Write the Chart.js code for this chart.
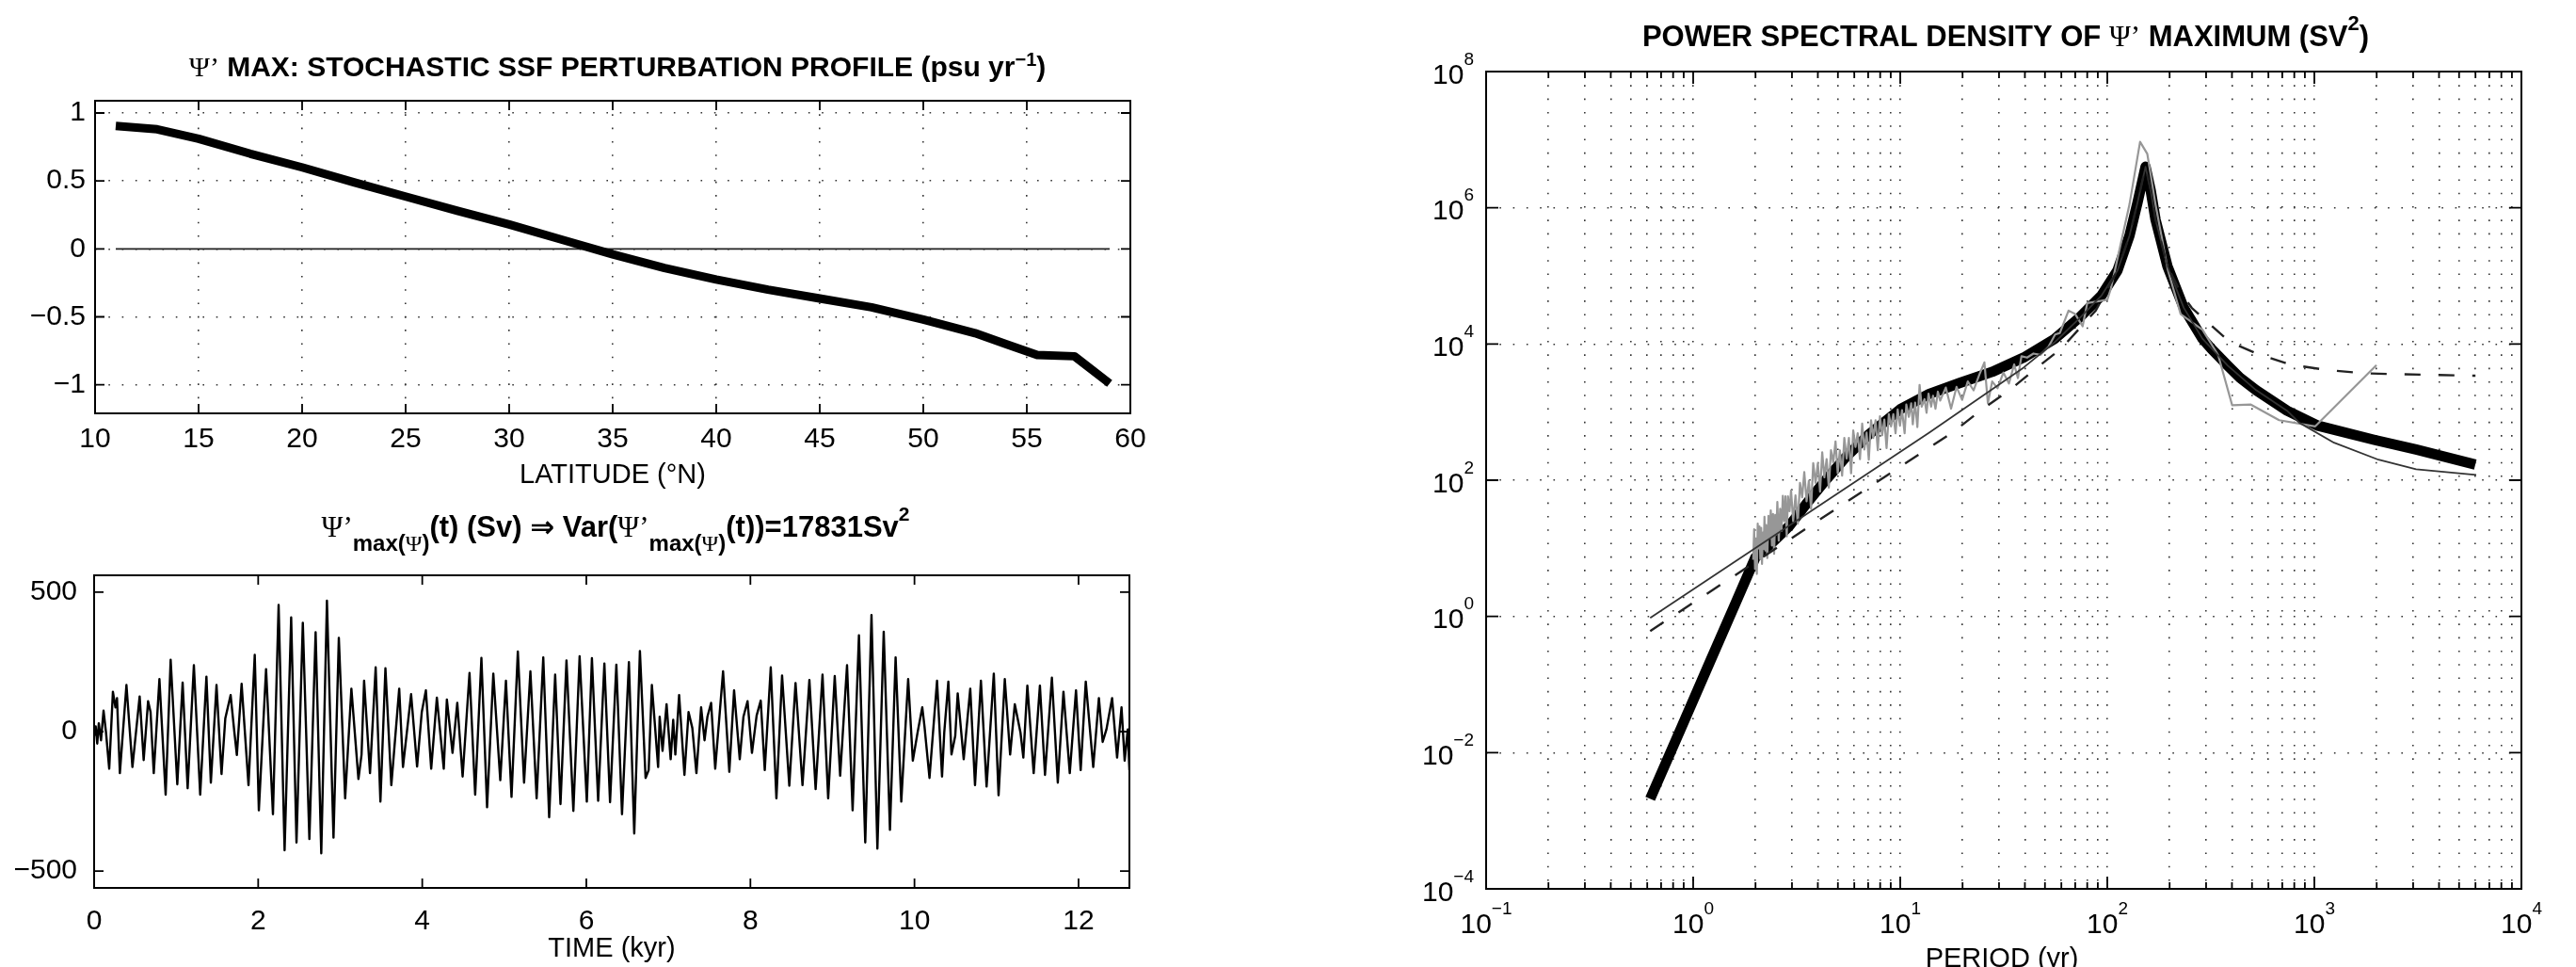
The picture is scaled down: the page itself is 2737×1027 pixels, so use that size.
<!DOCTYPE html>
<html>
<head>
<meta charset="utf-8">
<script src="https://cdn.jsdelivr.net/npm/chart.js@4.4.1/dist/chart.umd.min.js"></script>
<style>
  html, body { margin: 0; padding: 0; background: #fff; }
  body { width: 2737px; height: 1027px; position: relative; overflow: hidden; }
  canvas { position: absolute; }
</style>
</head>
<body>
<canvas id="profile" width="1250" height="520" style="left:0;top:0"></canvas>
<canvas id="series" width="1250" height="507" style="left:0;top:520px"></canvas>
<canvas id="psd" width="1337" height="1027" style="left:1400px;top:0"></canvas>
<script>
// --- top left: SSF perturbation profile
const latitude = [11, 13, 15, 17.5, 20, 22.5, 25, 27.5, 30, 32.5, 35, 37.5, 40, 42.5, 45, 47.5, 50, 52.5, 54, 55.5, 57.3, 59];
const ssfProfile = [0.905, 0.88, 0.81, 0.70, 0.60, 0.49, 0.385, 0.28, 0.18, 0.07, -0.04, -0.14, -0.225, -0.30, -0.365, -0.43, -0.52, -0.62, -0.70, -0.78, -0.79, -0.99];
const latTicks = [10, 15, 20, 25, 30, 35, 40, 45, 50, 55, 60];
const profileTicks = [-1, -0.5, 0, 0.5, 1];

// --- bottom left: time series of psi' max (Sv)
const timeKyr = [0, 0.019, 0.038, 0.057, 0.084, 0.115, 0.145, 0.184, 0.229, 0.260, 0.279, 0.314, 0.394, 0.467, 0.555, 0.604, 0.658, 0.688, 0.727, 0.796, 0.872, 0.933, 1.014, 1.079, 1.140, 1.216, 1.293, 1.369, 1.423, 1.492, 1.553, 1.599, 1.664, 1.710, 1.740, 1.798, 1.882, 1.958, 2.008, 2.096, 2.180, 2.249, 2.322, 2.402, 2.467, 2.544, 2.624, 2.700, 2.769, 2.838, 2.918, 2.983, 3.060, 3.136,
  3.222, 3.260, 3.291, 3.363, 3.432, 3.490, 3.551, 3.623, 3.719, 3.765, 3.864, 3.937, 3.994, 4.044, 4.109, 4.178, 4.262, 4.300, 4.369, 4.427, 4.492, 4.576, 4.645, 4.721, 4.790, 4.866, 4.951, 5.020, 5.088, 5.165, 5.241, 5.318, 5.394, 5.475, 5.547, 5.620, 5.685, 5.758, 5.842, 5.918, 6.006, 6.068, 6.144, 6.220, 6.289,
  6.366, 6.435, 6.519, 6.584, 6.653, 6.722, 6.760, 6.799, 6.875, 6.894, 6.929, 6.978, 7.028, 7.059, 7.085, 7.131, 7.196, 7.246, 7.292, 7.342, 7.399, 7.441, 7.476, 7.521, 7.571, 7.667, 7.743, 7.801, 7.870, 7.915, 7.965, 8.019, 8.076, 8.126, 8.175, 8.248, 8.317, 8.386, 8.474, 8.550, 8.635, 8.719, 8.795, 8.879, 8.948, 9.028, 9.094, 9.178, 9.246, 9.323, 9.400, 9.476,
  9.548, 9.625, 9.701, 9.770, 9.839, 9.923, 9.980, 10.038, 10.095, 10.122, 10.183, 10.275, 10.336, 10.363, 10.413, 10.451, 10.497, 10.527, 10.600, 10.680, 10.738, 10.810, 10.879, 10.967, 11.025, 11.101, 11.166, 11.223, 11.292, 11.327, 11.376, 11.453, 11.529, 11.591, 11.675, 11.747, 11.816, 11.893, 11.969, 12.026, 12.088, 12.179, 12.248, 12.294, 12.340, 12.409, 12.470, 12.524, 12.562, 12.600, 12.620];
const psiMax = [-15, 19, -43, 30, -31, 75, -3, -133, 143, 87, 120, -149, 167, -127, 126, -102, 109, 70, -149, 188, -226, 257, -189, 176, -203, 238, -226, 197, -183, 167, -152, 47, 131, -3, -84, 171, -192, 275, -282, 224, -296, 454, -425, 409, -397, 390, -385, 356, -436, 469, -380, 336, -239, 154,
  -170, -82, 182, -149, 230, -251, 227, -192, 154, -127, 134, -125, 70, 148, -133, 122, -133, 115, -76, 103, -161, 210, -226, 264, -271, 208, -174, 182, -234, 287, -183, 216, -239, 266, -307, 204, -260, 255, -284, 270, -251, 263, -248, 244, -253,
  240, -296, 249, -365, 289, -166, -138, 167, -127, 53, -69, 98, -99, 42, -82, 131, -155, 70, 13, -149, 87, -31, 53, 103, -133, 216, -144, 148, -99, 53, 109, -76, 58, 111, -138, 230, -239, 201, -194, 174, -192, 185, -206, 204, -239, 199, -158, 238, -282, 345, -397, 418,
  -419, 358, -352, 266, -251, 188, -104, -3, 87, 19, -166, 182, -161, -3, 179, -82, -15, 137, -99, 154, -192, 182, -197, 208, -228, 188, -82, 98, -3, -93, 165, -149, 165, -155, 193, -183, 143, -149, 148, -138, 179, -127, 120, -37, 8, 120, -93, 87, -104, 8, -138];
const timeTicks = [0, 2, 4, 6, 8, 10, 12];
const psiTicks = [-500, 0, 500];

// --- right: power spectral density (Sv^2) against period (yr)
const thickPeriod = [0.62, 0.88, 1.2, 1.6, 2.0, 2.4, 2.9, 3.5, 4.3, 5.4, 7, 10, 13.8, 19.5, 27.8, 39.4, 55.5, 73.5, 94, 112, 128, 140, 153, 162, 171, 195, 234, 288, 318, 382, 437, 523, 738, 1042, 1954, 3100, 5990];
const thickPsd = [0.0021, 0.024, 0.21, 1.55, 7.4, 12, 21, 44, 95, 210, 460, 1100, 1850, 2700, 3900, 6300, 11800, 24500, 52000, 120000, 390000, 1200000, 4000000, 1800000, 670000, 140000, 34000, 12000, 8500, 4800, 3200, 2100, 1050, 630, 390, 282, 170];

const grayPeriod = [1.95, 1.97, 1.99, 2.01, 2.03, 2.05, 2.07, 2.09, 2.11, 2.13, 2.15, 2.17, 2.19, 2.21, 2.23, 2.25, 2.28, 2.31, 2.34, 2.37, 2.40, 2.43, 2.46, 2.49, 2.52, 2.55, 2.59, 2.63, 2.67, 2.71, 2.75, 2.79, 2.83, 2.87, 2.92,
  2.97, 3.04, 3.12, 3.20, 3.28, 3.36, 3.44, 3.53, 3.62, 3.71, 3.80, 3.90, 4.00, 4.10, 4.20, 4.30, 4.41, 4.52, 4.63, 4.75, 4.87, 4.99, 5.11, 5.24, 5.37, 5.51, 5.65, 5.79, 5.93, 6.08, 6.23, 6.39, 6.55, 6.71, 6.88, 7.05, 7.23, 7.41, 7.60, 7.79, 7.98, 8.18, 8.38, 8.59, 8.81, 9.03, 9.26, 9.49, 9.72, 9.97, 10.2, 10.5, 10.7, 11.0, 11.3, 11.5, 11.8, 12.1, 12.4, 12.7, 13.1, 13.4, 13.7, 14.1, 14.4, 14.8, 15.2, 15.6,
  16.6, 17.6, 18.7, 19.9, 21.2, 22.6, 24.1, 25.5, 26.5, 27.8, 29.5, 31.5, 33.5, 35.5, 37.0, 38.5, 41, 44, 47.5, 52, 56, 59, 65, 70, 76, 80, 100, 104, 115, 128, 144, 156, 171, 196, 226, 288, 343, 401, 494, 676, 1010, 1995];
const grayPsd = [6.8, 19, 5.0, 14, 4.2, 23, 10, 21, 6.9, 20, 5.9, 17, 9.8, 29, 9.3, 22, 7.2, 30, 14, 36, 11, 32, 8.3, 31, 16, 48, 13, 38, 18, 59, 25, 58, 15, 58, 35,
  71, 25, 60, 23, 91, 56, 132, 49, 98, 38, 178, 91, 178, 68, 257, 110, 204, 78, 275, 182, 372, 126, 275, 117, 417, 209, 417, 126, 537, 309, 490, 204, 676, 282, 501, 200, 759, 417, 759, 275, 871, 457, 776, 295, 933, 617, 933, 490, 1096, 631, 1072, 490, 1288, 851, 1349, 661, 1380, 603, 2512, 1202, 1549, 977, 1862, 1202, 1738, 1122, 1995, 1479,
  2291, 1122, 2344, 1514, 2818, 2089, 3548, 5370, 1349, 2818, 2239, 3802, 2630, 5012, 3162, 6607, 6310, 7244, 6918, 9120, 13800, 14500, 30900, 27500, 18200, 39800, 44700, 64600, 257000, 1120000, 9300000, 6200000, 1120000, 123000, 27500, 16200, 6900, 1260, 1290, 760, 617, 4900];

const thinPeriod = [0.62, 13.8, 39.4, 55.5, 73.5, 94, 112, 128, 140, 153, 162, 171, 195, 234, 288, 382, 523, 738, 845, 1245, 2040, 3100, 6050];
const thinPsd = [0.95, 500, 4500, 10500, 24000, 52000, 120000, 390000, 1200000, 4000000, 1800000, 670000, 140000, 34000, 12000, 4800, 2100, 1050, 700, 355, 200, 145, 120];

const dashPeriod = [0.62, 13.8, 17.7, 24.1, 34.3, 46.1, 59.8, 87.9, 112, 128, 140, 153, 162, 171, 195, 226, 256, 390, 528, 762, 1146, 1706, 2510, 3800, 5560, 6000];
const dashPsd = [0.61, 300, 490, 1020, 2190, 4570, 8510, 30900, 120000, 390000, 1200000, 4000000, 1800000, 670000, 140000, 57000, 33800, 10700, 7200, 5000, 4150, 3730, 3600, 3520, 3430, 3420];

const periodTicks = [0.1, 1, 10, 100, 1000, 10000];
const periodExp = ['\u22121', '0', '1', '2', '3', '4'];
const psdTicks = [1e-4, 1e-2, 1, 1e2, 1e4, 1e6, 1e8];
const psdExp = ['\u22124', '\u22122', '0', '2', '4', '6', '8'];

const FONT = "'Liberation Sans', Arial, Helvetica, 'DejaVu Sans', sans-serif";
const SERIF = "'Liberation Serif', 'Times New Roman', 'DejaVu Serif', serif";

function pts(xs, ys) { return xs.map((x, i) => ({ x: x, y: ys[i] })); }
function minus(v) { return String(v).replace('-', '\u2212'); }

// text made of runs: {t, s(size), dy, w(weight), f(family)}
function runFont(r) { return (r.w || 'normal') + ' ' + r.s + 'px ' + (r.f || FONT); }
function drawRuns(ctx, runs, x, y, align) {
  let total = 0;
  runs.forEach(r => { ctx.font = runFont(r); total += ctx.measureText(r.t).width; });
  let cx = align === 'center' ? x - total / 2 : (align === 'right' ? x - total : x);
  ctx.textAlign = 'left';
  ctx.textBaseline = 'alphabetic';
  ctx.fillStyle = '#000';
  runs.forEach(r => {
    ctx.font = runFont(r);
    ctx.fillText(r.t, cx, y + (r.dy || 0));
    cx += ctx.measureText(r.t).width;
  });
}

// box around the axes and inward tick marks (MATLAB style)
const frameTicks = {
  id: 'frameTicks',
  afterDatasetsDraw(chart, args, opts) {
    const { ctx, chartArea: a, scales } = chart;
    ctx.save();
    ctx.strokeStyle = '#000';
    ctx.lineWidth = 1.8;
    ctx.beginPath();
    (opts.x || []).forEach(([v, len]) => {
      const p = scales.x.getPixelForValue(v);
      ctx.moveTo(p, a.bottom); ctx.lineTo(p, a.bottom - len);
      ctx.moveTo(p, a.top); ctx.lineTo(p, a.top + len);
    });
    (opts.y || []).forEach(([v, len]) => {
      const p = scales.y.getPixelForValue(v);
      ctx.moveTo(a.left, p); ctx.lineTo(a.left + len, p);
      ctx.moveTo(a.right, p); ctx.lineTo(a.right - len, p);
    });
    ctx.stroke();
    ctx.lineWidth = 2;
    ctx.strokeRect(a.left, a.top, a.right - a.left, a.bottom - a.top);
    ctx.restore();
  }
};

function textPlugin(draw) {
  return { id: 'texts', afterDraw(chart) { const ctx = chart.ctx; ctx.save(); draw(ctx, chart); ctx.restore(); } };
}

const dotted = { display: true, color: '#333', lineWidth: 1.6, drawTicks: false };
const base = {
  responsive: false,
  animation: false,
  devicePixelRatio: 1,
  events: [],
  elements: { point: { radius: 0 }, line: { tension: 0, borderJoinStyle: 'round' } }
};

// ---------- top left
new Chart(document.getElementById('profile'), {
  type: 'line',
  data: {
    datasets: [
      { data: pts(latitude, ssfProfile), borderColor: '#000', borderWidth: 9 },
      { data: pts([latitude[0], latitude[latitude.length - 1]], [0, 0]), borderColor: '#222', borderWidth: 1.8 }
    ]
  },
  options: Object.assign({}, base, {
    layout: { padding: { top: 107, right: 49, left: 0, bottom: 0 } },
    plugins: { legend: { display: false }, tooltip: { enabled: false },
      frameTicks: { x: latTicks.map(v => [v, 10]), y: profileTicks.map(v => [v, 10]) } },
    scales: {
      x: {
        type: 'linear', min: 10, max: 60,
        afterBuildTicks: s => { s.ticks = latTicks.map(v => ({ value: v })); },
        afterFit: s => { s.height = 81; },
        grid: dotted, border: { display: false, dash: [1.6, 12.7] },
        ticks: { color: '#000', font: { family: FONT, size: 30 }, padding: 10, maxRotation: 0, autoSkip: false }
      },
      y: {
        min: -1.21, max: 1.09,
        afterBuildTicks: s => { s.ticks = profileTicks.map(v => ({ value: v })); },
        afterFit: s => { s.width = 101; },
        grid: dotted, border: { display: false, dash: [1.6, 12.7] },
        ticks: { color: '#000', font: { family: FONT, size: 30 }, padding: 10, callback: v => minus(v) }
      }
    }
  }),
  plugins: [frameTicks, textPlugin(ctx => {
    drawRuns(ctx, [
      { t: '\u03A8\u2019', s: 30, f: SERIF },
      { t: ' MAX: STOCHASTIC SSF PERTURBATION PROFILE (psu yr', s: 30, w: 'bold' },
      { t: '\u22121', s: 20, dy: -11, w: 'bold' },
      { t: ')', s: 30, w: 'bold' }
    ], 656, 80.5, 'center');
    drawRuns(ctx, [{ t: 'LATITUDE (\u00B0N)', s: 29 }], 651, 513, 'center');
  })]
});

// ---------- bottom left
new Chart(document.getElementById('series'), {
  type: 'line',
  data: { datasets: [{ data: pts(timeKyr, psiMax), borderColor: '#000', borderWidth: 2.4 }] },
  options: Object.assign({}, base, {
    layout: { padding: { top: 91, right: 50, left: 0, bottom: 0 } },
    plugins: { legend: { display: false }, tooltip: { enabled: false },
      frameTicks: { x: timeTicks.map(v => [v, 10]), y: psiTicks.map(v => [v, 10]) } },
    scales: {
      x: {
        type: 'linear', min: 0, max: 12.62,
        afterBuildTicks: s => { s.ticks = timeTicks.map(v => ({ value: v })); },
        afterFit: s => { s.height = 84; },
        grid: { display: false }, border: { display: false },
        ticks: { color: '#000', font: { family: FONT, size: 30 }, padding: 10, maxRotation: 0, autoSkip: false }
      },
      y: {
        min: -560, max: 560,
        afterBuildTicks: s => { s.ticks = psiTicks.map(v => ({ value: v })); },
        afterFit: s => { s.width = 100; },
        grid: { display: false }, border: { display: false },
        ticks: { color: '#000', font: { family: FONT, size: 30 }, padding: 10, callback: v => minus(v) }
      }
    }
  }),
  plugins: [frameTicks, textPlugin(ctx => {
    drawRuns(ctx, [
      { t: '\u03A8\u2019', s: 31, f: SERIF },
      { t: 'max(', s: 24, dy: 15, w: 'bold' },
      { t: '\u03A8', s: 24, dy: 15, f: SERIF },
      { t: ')', s: 24, dy: 15, w: 'bold' },
      { t: '(t) (Sv) \u21D2 Var(', s: 31, w: 'bold' },
      { t: '\u03A8\u2019', s: 31, f: SERIF },
      { t: 'max(', s: 24, dy: 15, w: 'bold' },
      { t: '\u03A8', s: 24, dy: 15, f: SERIF },
      { t: ')', s: 24, dy: 15, w: 'bold' },
      { t: '(t))=17831Sv', s: 31, w: 'bold' },
      { t: '2', s: 21, dy: -17, w: 'bold' }
    ], 654, 50, 'center');
    drawRuns(ctx, [{ t: 'TIME (kyr)', s: 29 }], 650, 496, 'center');
  })]
});

// ---------- right: PSD
const periodGrid = [];
for (let k = -1; k < 4; k++) for (let m = 1; m < 10; m++) periodGrid.push(m * Math.pow(10, k));
periodGrid.push(10000);
const periodTickMarks = periodGrid.map(v => [v, periodTicks.includes(+v.toPrecision(6)) ? 13 : 7]);

new Chart(document.getElementById('psd'), {
  type: 'line',
  data: {
    datasets: [
      { data: pts(dashPeriod, dashPsd), borderColor: '#222', borderWidth: 2.4, borderDash: [17, 19] },
      { data: pts(thinPeriod, thinPsd), borderColor: '#333', borderWidth: 1.8 },
      { data: pts(grayPeriod, grayPsd), borderColor: '#979797', borderWidth: 2.2 },
      { data: pts(thickPeriod, thickPsd), borderColor: '#000', borderWidth: 11 }
    ]
  },
  options: Object.assign({}, base, {
    layout: { padding: { top: 76, right: 58, left: 0, bottom: 0 } },
    plugins: { legend: { display: false }, tooltip: { enabled: false },
      frameTicks: { x: periodTickMarks, y: psdTicks.map(v => [v, 13]) } },
    scales: {
      x: {
        type: 'logarithmic', min: 0.1, max: 10000,
        afterBuildTicks: s => { s.ticks = periodGrid.map(v => ({ value: v })); },
        afterFit: s => { s.height = 83; },
        grid: dotted, border: { display: false, dash: [1.6, 12.7] },
        ticks: { display: false }
      },
      y: {
        type: 'logarithmic', min: 1e-4, max: 1e8,
        afterBuildTicks: s => { s.ticks = psdTicks.map(v => ({ value: v })); },
        afterFit: s => { s.width = 179; },
        grid: dotted, border: { display: false, dash: [1.6, 12.7] },
        ticks: { display: false }
      }
    }
  }),
  plugins: [frameTicks, textPlugin((ctx, chart) => {
    const sx = chart.scales.x, sy = chart.scales.y;
    periodTicks.forEach((v, i) => {
      drawRuns(ctx, [{ t: '10', s: 30 }, { t: periodExp[i], s: 19, dy: -20 }], sx.getPixelForValue(v), 991, 'center');
    });
    psdTicks.forEach((v, i) => {
      drawRuns(ctx, [{ t: '10', s: 30 }, { t: psdExp[i], s: 19, dy: -20 }], 166, sy.getPixelForValue(v) + 12.5, 'right');
    });
    drawRuns(ctx, [
      { t: 'POWER SPECTRAL DENSITY OF ', s: 31, w: 'bold' },
      { t: '\u03A8\u2019', s: 31, f: SERIF },
      { t: ' MAXIMUM (SV', s: 31, w: 'bold' },
      { t: '2', s: 22, dy: -17, w: 'bold' },
      { t: ')', s: 31, w: 'bold' }
    ], 731, 48.5, 'center');
    drawRuns(ctx, [{ t: 'PERIOD (yr)', s: 29 }], 727, 1027, 'center');
  })]
});
</script>
</body>
</html>
